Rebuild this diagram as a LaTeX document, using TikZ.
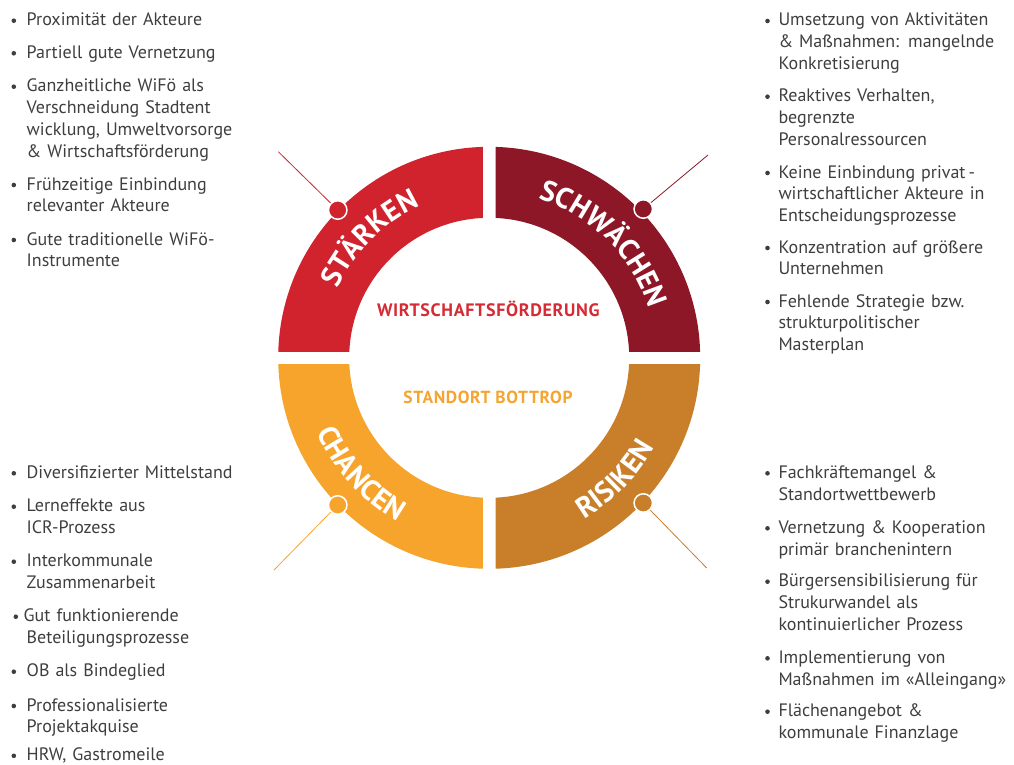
\documentclass[tikz,border=0pt]{standalone}
\usepackage{fontspec}
\setmainfont{PT Sans}
\usetikzlibrary{decorations.text,calc}
\definecolor{cStr}{HTML}{D1232E}
\definecolor{cSchw}{HTML}{8E1727}
\definecolor{cCha}{HTML}{F6A42C}
\definecolor{cRis}{HTML}{C97F2A}
\definecolor{cWir}{HTML}{D52B35}
\definecolor{cSta}{HTML}{F5A431}
\definecolor{txtgray}{HTML}{3E3E3E}
\newcommand\bodyfnt{\fontsize{18}{21.8}\selectfont}
\newcommand\ringfnt{\bfseries\fontsize{29}{29}\selectfont}
\newcommand\swotitem[5]{%
  \fill[txtgray] (#2,-#4+5) circle[radius=2.3];
  \node[itemtxt, anchor=base west] (#1) at (#3,-#4) {#5};}
\begin{document}
\begin{tikzpicture}[x=1pt,y=1pt,
  itemtxt/.style={font=\bodyfnt, text=txtgray, inner sep=0pt, align=left, text width=250pt},
  dot/.style={circle, draw=white, line width=1.5pt, minimum size=18.5pt, inner sep=0pt},
  leader/.style={line width=0.8pt},
  ringlabel/.style={decorate, decoration={text along path, text color=white, text align=center, text={|\ringfnt|#1}}}]
\useasboundingbox (0,0) rectangle (1014,-765);
\coordinate (c) at (489.2,-357.8);
% ring segments
\begin{scope}
  \clip (482.9,-351.5) rectangle (200,-100);
  \fill[cStr, even odd rule] (c) circle[radius=211] (c) circle[radius=140];
\end{scope}
\begin{scope}
  \clip (495.5,-351.5) rectangle (800,-100);
  \fill[cSchw, even odd rule] (c) circle[radius=211] (c) circle[radius=140];
\end{scope}
\begin{scope}
  \clip (482.9,-364.1) rectangle (200,-650);
  \fill[cCha, even odd rule] (c) circle[radius=211] (c) circle[radius=140];
\end{scope}
\begin{scope}
  \clip (495.5,-364.1) rectangle (800,-650);
  \fill[cRis, even odd rule] (c) circle[radius=211] (c) circle[radius=140];
\end{scope}
% ring labels
\path[ringlabel=STÄRKEN] ($(c)+(170:166.5)$) arc[start angle=170, end angle=100, radius=166.5];
\path[ringlabel=SCHWÄCHEN] ($(c)+(80:166.5)$) arc[start angle=80, end angle=10, radius=166.5];
\path[ringlabel=CHANCEN] ($(c)+(187:187.5)$) arc[start angle=187, end angle=257, radius=187.5];
\path[ringlabel=RISIKEN] ($(c)+(281:187.5)$) arc[start angle=281, end angle=351, radius=187.5];
% center texts
\node[font=\bfseries\fontsize{18}{18}\selectfont\addfontfeature{LetterSpace=3.7}, text=cWir, anchor=base, inner sep=0pt] (wf) at (488.3,-316) {WIRTSCHAFTSFÖRDERUNG};
\node[font=\bfseries\fontsize{17.5}{17.5}\selectfont\addfontfeature{LetterSpace=3.6}, text=cSta, anchor=base, inner sep=0pt] (sb) at (488,-403.3) {STANDORT BOTTROP};
% leader dots and lines
\node[dot, fill=cStr] (dSt) at (337.7,-210) {};
\node[dot, fill=cSchw] (dSw) at (643.3,-209) {};
\node[dot, fill=cCha] (dCh) at (337.7,-505) {};
\node[dot, fill=cRis] (dRi) at (643.3,-503) {};
\coordinate (eSt) at (278.3,-151.7);
\coordinate (eSw) at (708,-155);
\coordinate (eCh) at (274,-570);
\coordinate (eRi) at (706.7,-568);
\draw[leader, cStr] (dSt) -- (eSt);
\draw[leader, cSchw] (dSw) -- (eSw);
\draw[leader, cCha] (dCh) -- (eCh);
\draw[leader, cRis] (dRi) -- (eRi);
% Staerken
\swotitem{s1}{13.8}{26.5}{25.7}{Proximität der Akteure}
\swotitem{s2}{13.8}{26.5}{58.3}{Partiell gute Vernetzung}
\swotitem{s3}{13.8}{26.5}{91.7}{Ganzheitliche WiFö als\\Verschneidung Stadtent\\wicklung, Umweltvorsorge\\\& Wirtschaftsförderung}
\swotitem{s4}{13.8}{26.5}{190}{Frühzeitige Einbindung\\relevanter Akteure}
\swotitem{s5}{13.8}{26.5}{245}{Gute traditionelle WiFö-\\Instrumente}
% Schwaechen
\swotitem{w1}{767.5}{778.3}{26}{Umsetzung von Aktivitäten\\\& Maßnahmen: mangelnde\\Konkretisierung}
\swotitem{w2}{767.5}{778.3}{101.7}{Reaktives Verhalten,\\begrenzte\\Personalressourcen}
\swotitem{w3}{767.5}{778.3}{178}{Keine Einbindung privat\,-\\wirtschaftlicher Akteure in\\Entscheidungsprozesse}
\swotitem{w4}{767.5}{778.3}{253}{Konzentration auf größere\\Unternehmen}
\swotitem{w5}{767.5}{778.3}{307}{Fehlende Strategie bzw.\\strukturpolitischer\\Masterplan}
% Chancen
\swotitem{c1}{13.8}{26.5}{478.3}{Diversifizierter Mittelstand}
\swotitem{c2}{13.8}{26.5}{511.7}{Lerneffekte aus\\ICR-Prozess}
\swotitem{c3}{13.8}{26.5}{566.7}{Interkommunale\\Zusammenarbeit}
\swotitem{c4}{15.8}{26.5}{621.7}{\hspace*{-3pt}Gut funktionierende\\Beteiligungsprozesse}
\swotitem{c5}{13.8}{26.5}{676.7}{OB als Bindeglied}
\swotitem{c6}{13.8}{26.5}{711}{Professionalisierte\\Projektakquise}
\swotitem{c7}{13.8}{26.5}{760.8}{HRW, Gastromeile}
% Risiken
\swotitem{r1}{767.5}{778.3}{478.3}{Fachkräftemangel \&\\Standortwettbewerb}
\swotitem{r2}{767.5}{778.3}{533.3}{Vernetzung \& Kooperation\\primär branchenintern}
\swotitem{r3}{767.5}{778.3}{586.7}{Bürgersensibilisierung für\\Strukurwandel als\\kontinuierlicher Prozess}
\swotitem{r4}{767.5}{778.3}{663.3}{Implementierung von\\Maßnahmen im «Alleingang»}
\swotitem{r5}{767.5}{778.3}{716.7}{Flächenangebot \&\\kommunale Finanzlage}
\end{tikzpicture}
\end{document}
